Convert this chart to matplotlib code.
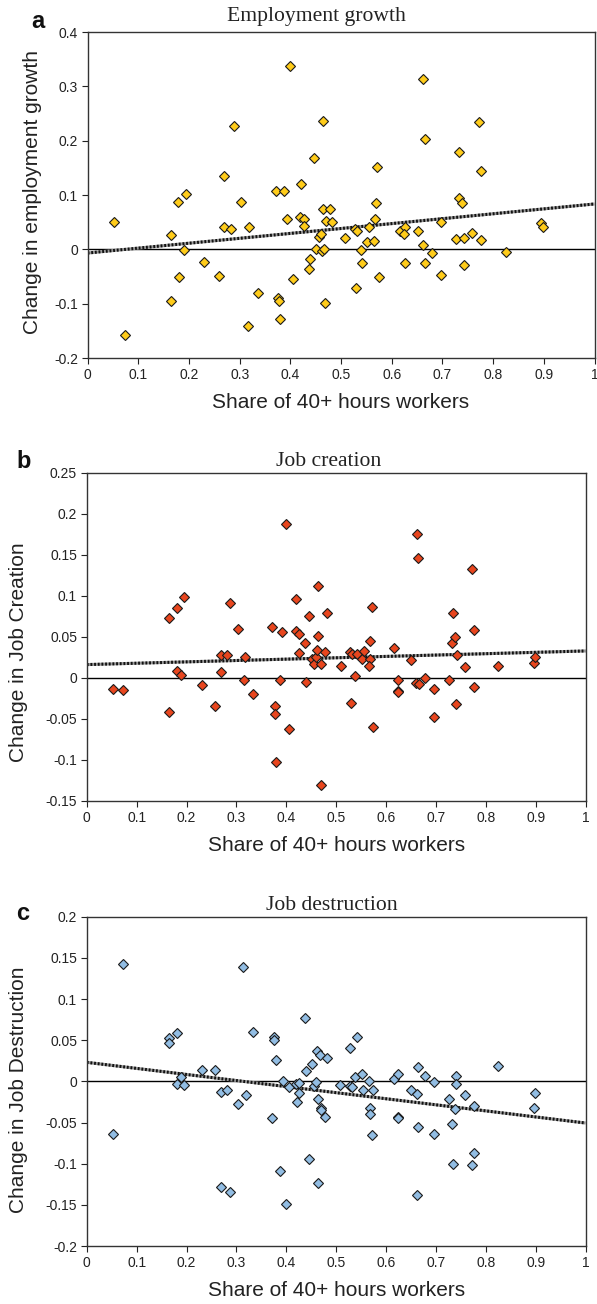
import numpy as np
import matplotlib.pyplot as plt

plt.rcParams['font.family'] = ['Liberation Sans', 'DejaVu Sans']

# panel a - employment growth
share_a = [0.053, 0.074, 0.165, 0.165, 0.179, 0.181, 0.190, 0.195, 0.230, 0.260,
           0.269, 0.270, 0.282, 0.288, 0.303, 0.319, 0.336, 0.316, 0.371, 0.388,
           0.376, 0.377, 0.380, 0.393, 0.399, 0.406, 0.421, 0.419, 0.426, 0.427,
           0.437, 0.439, 0.446, 0.451, 0.456, 0.460, 0.464, 0.463, 0.467, 0.469,
           0.465, 0.479, 0.470, 0.483, 0.508, 0.528, 0.531, 0.530, 0.539, 0.542,
           0.552, 0.555, 0.565, 0.567, 0.568, 0.571, 0.575, 0.616, 0.626, 0.625,
           0.626, 0.651, 0.662, 0.666, 0.662, 0.666, 0.679, 0.697, 0.697, 0.727,
           0.733, 0.732, 0.739, 0.743, 0.742, 0.758, 0.773, 0.776, 0.776, 0.825,
           0.895, 0.898]
growth_a = [0.050, -0.158, 0.026, -0.095, 0.087, -0.051, -0.002, 0.102, -0.024, -0.049,
            0.135, 0.041, 0.037, 0.227, 0.087, 0.041, -0.080, -0.141, 0.107, 0.107,
            -0.089, -0.095, -0.129, 0.056, 0.338, -0.055, 0.120, 0.060, 0.055, 0.043,
            -0.036, -0.018, 0.169, 0.001, 0.022, 0.028, 0.236, -0.003, 0.001, -0.099,
            0.074, 0.074, 0.052, 0.051, 0.020, 0.038, 0.034, -0.071, -0.002, -0.025,
            0.014, 0.042, 0.015, 0.055, 0.085, 0.152, -0.051, 0.034, 0.041, 0.028,
            -0.025, 0.033, 0.314, 0.203, 0.008, -0.025, -0.006, 0.050, -0.047, 0.019,
            0.179, 0.095, 0.085, 0.020, -0.029, 0.030, 0.235, 0.145, 0.018, -0.004,
            0.049, 0.041]
trend_a = [-0.0068, 0.0835]   # fitted line at share 0 and 1

# panel b - job creation
share_b = [0.052, 0.073, 0.164, 0.164, 0.180, 0.180, 0.188, 0.195, 0.230, 0.258,
           0.269, 0.269, 0.281, 0.287, 0.303, 0.318, 0.334, 0.315, 0.371, 0.392,
           0.377, 0.377, 0.380, 0.387, 0.399, 0.405, 0.420, 0.419, 0.425, 0.426,
           0.437, 0.440, 0.445, 0.451, 0.456, 0.460, 0.463, 0.462, 0.470, 0.470,
           0.464, 0.481, 0.478, 0.509, 0.528, 0.531, 0.530, 0.538, 0.542, 0.552,
           0.555, 0.568, 0.565, 0.568, 0.571, 0.574, 0.615, 0.625, 0.625, 0.625,
           0.650, 0.662, 0.665, 0.660, 0.666, 0.679, 0.697, 0.697, 0.726, 0.734,
           0.732, 0.739, 0.742, 0.741, 0.758, 0.773, 0.776, 0.776, 0.825, 0.896,
           0.898]
creation_b = [-0.014, -0.015, 0.073, -0.042, 0.085, 0.009, 0.003, 0.098, -0.009, -0.034,
              0.028, 0.007, 0.028, 0.091, 0.059, 0.025, -0.020, -0.002, 0.062, 0.056,
              -0.034, -0.044, -0.103, -0.002, 0.188, -0.062, 0.096, 0.057, 0.054, 0.030,
              0.042, -0.005, 0.075, 0.023, 0.017, 0.026, 0.112, 0.034, 0.017, -0.130,
              0.051, 0.079, 0.032, 0.014, 0.032, 0.029, -0.031, 0.002, 0.029, 0.023,
              0.033, 0.023, 0.015, 0.045, 0.086, -0.060, 0.037, -0.002, -0.016, -0.017,
              0.022, 0.175, 0.146, -0.006, -0.008, 0.000, -0.014, -0.048, -0.002, 0.079,
              0.043, 0.050, 0.028, -0.032, 0.013, 0.133, 0.058, -0.011, 0.015, 0.018,
              0.026]
trend_b = [0.0162, 0.0328]

# panel c - job destruction
share_c = [0.052, 0.073, 0.164, 0.164, 0.180, 0.180, 0.189, 0.195, 0.230, 0.258,
           0.269, 0.269, 0.281, 0.287, 0.303, 0.319, 0.314, 0.334, 0.371, 0.376,
           0.376, 0.380, 0.387, 0.393, 0.399, 0.405, 0.421, 0.420, 0.425, 0.426,
           0.438, 0.440, 0.445, 0.451, 0.456, 0.460, 0.462, 0.463, 0.464, 0.467,
           0.469, 0.469, 0.478, 0.481, 0.508, 0.528, 0.528, 0.531, 0.538, 0.542,
           0.552, 0.554, 0.565, 0.568, 0.568, 0.571, 0.574, 0.615, 0.625, 0.625,
           0.625, 0.650, 0.662, 0.665, 0.665, 0.662, 0.679, 0.697, 0.697, 0.726,
           0.732, 0.734, 0.739, 0.741, 0.741, 0.758, 0.776, 0.776, 0.773, 0.825,
           0.898, 0.896]
destruction_c = [-0.064, 0.142, 0.053, 0.046, 0.059, -0.003, 0.005, -0.004, 0.014, 0.014,
                 -0.013, -0.128, -0.010, -0.135, -0.028, -0.017, 0.139, 0.060, -0.045, 0.054,
                 0.050, 0.026, -0.109, 0.000, -0.149, -0.007, -0.025, -0.003, -0.002, -0.014,
                 0.077, 0.013, -0.094, 0.021, -0.006, -0.001, 0.037, -0.123, -0.022, 0.032,
                 -0.032, -0.035, -0.043, 0.028, -0.005, 0.040, -0.006, -0.007, 0.005, 0.054,
                 0.009, -0.010, 0.000, -0.032, -0.040, -0.065, -0.010, 0.003, 0.009, -0.043,
                 -0.045, -0.010, -0.015, 0.017, -0.056, -0.138, 0.006, -0.001, -0.064, -0.021,
                 -0.052, -0.100, -0.034, 0.007, -0.003, -0.017, -0.030, -0.087, -0.102, 0.019,
                 -0.014, -0.032]
trend_c = [0.0231, -0.0506]

x_ticks = [0, 0.1, 0.2, 0.3, 0.4, 0.5, 0.6, 0.7, 0.8, 0.9, 1]
x_labels = ['0', '0.1', '0.2', '0.3', '0.4', '0.5', '0.6', '0.7', '0.8', '0.9', '1']
y_ticks_a = [-0.2, -0.1, 0, 0.1, 0.2, 0.3, 0.4]
y_labels_a = ['-0.2', '-0.1', '0', '0.1', '0.2', '0.3', '0.4']
y_ticks_bc = [-0.15, -0.1, -0.05, 0, 0.05, 0.1, 0.15, 0.2, 0.25]
y_labels_bc = ['-0.15', '-0.1', '-0.05', '0', '0.05', '0.1', '0.15', '0.2', '0.25']
y_ticks_c = [-0.2, -0.15, -0.1, -0.05, 0, 0.05, 0.1, 0.15, 0.2]
y_labels_c = ['-0.2', '-0.15', '-0.1', '-0.05', '0', '0.05', '0.1', '0.15', '0.2']

W, H = 597, 1304
fig = plt.figure(figsize=(W / 100, H / 100), dpi=100)


def px_rect(left, top, right, bottom):
    return [left / W, 1 - bottom / H, (right - left) / W, (bottom - top) / H]


def panel(rect, xs, ys, trend, color, msize, yt, yl, ylim, ylabel, lab_pos):
    ax = fig.add_axes(rect)
    ax.axhline(0, color='black', lw=1.0, zorder=1)
    # excel style round-dot trend line
    ax.plot([0, 1], trend, color='#999999', lw=2.2, zorder=2, solid_capstyle='butt')
    ax.plot([0, 1], trend, color='#111111', lw=2.2, dashes=(0.6, 0.6), zorder=2)
    ax.plot(xs, ys, 'D', ms=msize, mfc=color, mec='#1a1a1a', mew=0.8, zorder=3)
    ax.set_xlim(0, 1)
    ax.set_ylim(*ylim)
    ax.set_xticks(x_ticks)
    ax.set_xticklabels(x_labels)
    ax.set_yticks(yt)
    ax.set_yticklabels(yl)
    ax.tick_params(direction='out', length=4, width=0.8, labelsize=10, pad=3, colors='#222222')
    for s in ax.spines.values():
        s.set_color('#333333')
        s.set_linewidth(1.0)
    ax.set_xlabel('Share of 40+ hours workers', fontsize=15, color='#222222')
    ax.xaxis.label.set_va('baseline')
    ax.xaxis.set_label_coords(0.5, -50 / (rect[3] * H))
    ax.set_ylabel(ylabel, fontsize=15, color='#222222')
    ax.yaxis.label.set_va('center')
    ax.yaxis.set_label_coords(*lab_pos)
    return ax


panel(px_rect(87.6, 32, 594.5, 358), share_a, growth_a, trend_a, '#FFCC1A', 4.6,
      y_ticks_a, y_labels_a, (-0.2, 0.4), 'Change in employment growth', (-0.108, 0.51))
panel(px_rect(86.8, 472.7, 585.5, 801), share_b, creation_b, trend_b, '#E8461E', 5.0,
      y_ticks_bc, y_labels_bc, (-0.15, 0.25), 'Change in Job Creation', (-0.136, 0.454))
panel(px_rect(86.8, 916.7, 585.5, 1246), share_c, destruction_c, trend_c, '#92BDE3', 5.0,
      y_ticks_c, y_labels_c, (-0.2, 0.2), 'Change in Job Destruction', (-0.136, 0.474))

# titles and panel letters
titles = ['Employment growth', 'Job creation', 'Job destruction']
title_xy = [(316.5, 21), (328.5, 466), (331.5, 910)]
for t, (tx, ty) in zip(titles, title_xy):
    fig.text(tx / W, 1 - ty / H, t, ha='center', va='baseline', fontsize=15.6,
             family=['Liberation Serif', 'DejaVu Serif'], color='#222222')

letters = ['a', 'b', 'c']
letter_xy = [(38, 22), (24, 461), (23, 914)]
for l, (lx, ly) in zip(letters, letter_xy):
    fig.text(lx / W, 1 - ly / H, l, ha='center', va='center', fontsize=17,
             fontweight='bold', color='#111111')

fig.savefig('out.png', dpi=100)
